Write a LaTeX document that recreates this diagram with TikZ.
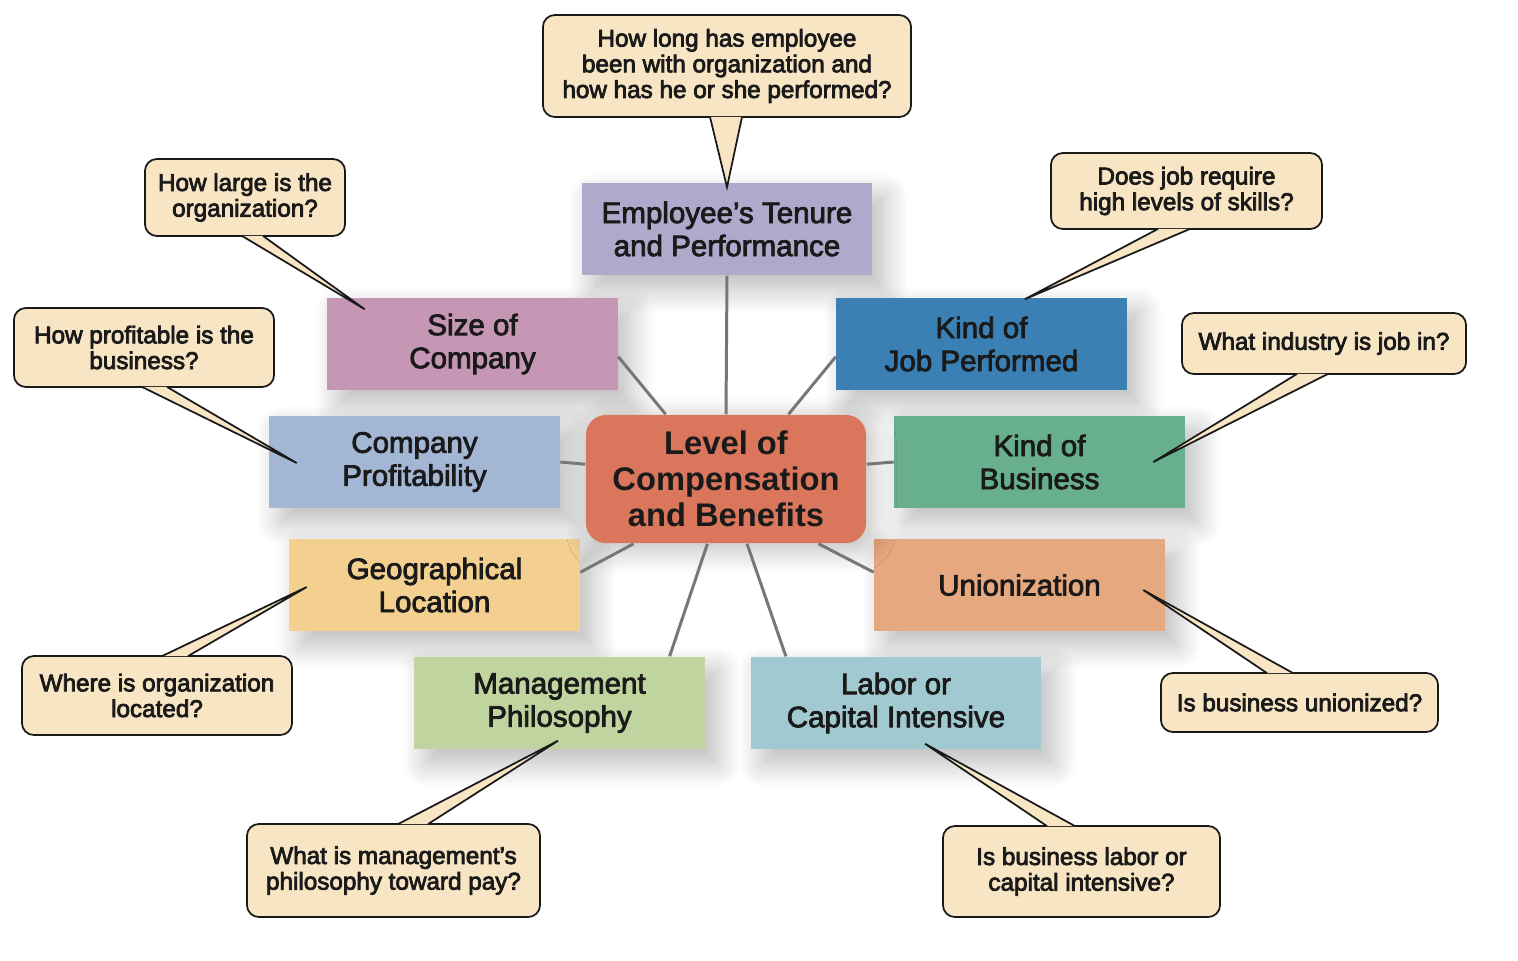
\documentclass[tikz,border=0pt]{standalone}
\usepackage{fontspec}
\setmainfont{Liberation Sans}
\usepackage{tikz}
\usetikzlibrary{shapes}
\usetikzlibrary{shadows.blur}
\newcommand{\heavyon}{\special{pdf:literal direct 2 Tr 0.22 w}}
\newcommand{\heavyoff}{\special{pdf:literal direct 0 Tr}}
\definecolor{hubcol}{HTML}{D9765C}
\definecolor{tenurecol}{HTML}{AFA9CB}
\definecolor{sizecol}{HTML}{C697B4}
\definecolor{jobcol}{HTML}{3B80B5}
\definecolor{profitcol}{HTML}{A3B7D5}
\definecolor{businesscol}{HTML}{67AF8D}
\definecolor{geocol}{HTML}{F3CF90}
\definecolor{unioncol}{HTML}{E6A87E}
\definecolor{mgmtcol}{HTML}{BFD49E}
\definecolor{laborcol}{HTML}{A1C9D1}
\definecolor{bubblecol}{HTML}{F8E5C4}
\definecolor{spokecol}{HTML}{777777}
\definecolor{inkcol}{HTML}{1A1A1A}
\tikzstyle{factor}=[rectangle, minimum width=2.9cm, minimum height=0.92cm, align=center, text=inkcol,
  font=\fontsize{8.4}{9.4}\selectfont, execute at begin node=\heavyon, execute at end node=\heavyoff,
  blur shadow={shadow xshift=0.12cm, shadow yshift=-0.14cm, shadow blur radius=0.25cm, shadow blur steps=12, shadow opacity=28}]
\tikzstyle{hub}=[rectangle, rounded corners=0.2cm, fill=hubcol, minimum width=2.8cm, minimum height=1.28cm,
  align=center, text=inkcol, font=\bfseries\fontsize{9.3}{10.3}\selectfont,
  blur shadow={shadow xshift=0.05cm, shadow yshift=-0.06cm, shadow blur radius=0.25cm, shadow blur steps=12, shadow opacity=28}]
\tikzstyle{question}=[rectangle, rounded corners=0.12cm, draw=inkcol, line width=0.5pt, fill=bubblecol,
  align=center, text=inkcol, font=\fontsize{6.9}{7.3}\selectfont, execute at begin node=\heavyon, execute at end node=\heavyoff]
\tikzstyle{pointer}=[draw=inkcol, line width=0.5pt, fill=bubblecol, line join=miter]
\tikzstyle{spoke}=[draw=spokecol, line width=0.85pt]

\begin{document}
\begin{tikzpicture}[x=0.01cm, y=-0.01cm]
  \useasboundingbox (0,0) rectangle (1518,960);
  \node[factor, fill=tenurecol] at (727,229) (tenure) {Employee’s Tenure\\and Performance};
  \node[factor, fill=sizecol] at (472.5,344) (size) {Size of\\Company};
  \node[factor, fill=jobcol] at (981.5,344) (job) {Kind of\\Job Performed};
  \node[factor, fill=profitcol] at (414.5,462) (profit) {Company\\Profitability};
  \node[factor, fill=businesscol] at (1039.5,462) (business) {Kind of\\Business};
  \node[factor, fill=geocol] at (434.5,585) (geo) {Geographical\\Location};
  \node[factor, fill=unioncol] at (1019.5,585) (union) {Unionization};
  \node[factor, fill=mgmtcol] at (559.5,703) (mgmt) {Management\\Philosophy};
  \node[factor, fill=laborcol] at (896,703) (labor) {Labor or\\Capital Intensive};
  \node[hub] at (726,479) (level) {Level of\\Compensation\\and Benefits};

  \draw[spoke] (tenure.south) -- (level.north);
  \draw[spoke] (size.-5) -- (level.133);
  \draw[spoke] (job.185) -- (level.46);
  \draw[spoke] (profit.east) -- (level.174);
  \draw[spoke] (business.west) -- (level.6);
  \draw[spoke] (geo.5) -- (level.215);
  \draw[spoke] (union.175) -- (level.-35);
  \draw[spoke] (mgmt.23) -- (level.254);
  \draw[spoke] (labor.157) -- (level.-72);

  \node[question, minimum width=3.68cm, minimum height=1.02cm] at (727,66) (qtenure)
    {How long has employee\\been with organization and\\how has he or she performed?};
  \filldraw[pointer] ([shift={(-17,-1)}]qtenure.south) -- ([shift={(0,5)}]tenure.north) -- ([shift={(15,-1)}]qtenure.south);
  \node[question, minimum width=2cm, minimum height=0.77cm] at (245,197.5) (qsize)
    {How large is the\\organization?};
  \filldraw[pointer] ([shift={(-3,-1)}]qsize.south) -- ([shift={(38,12)}]size.north west) -- ([shift={(18,-1)}]qsize.south);
  \node[question, minimum width=2.6cm, minimum height=0.79cm] at (144,347.5) (qprofit)
    {How profitable is the\\business?};
  \filldraw[pointer] ([shift={(-2,-1)}]qprofit.south) -- ([shift={(28,1)}]profit.west) -- ([shift={(23,-1)}]qprofit.south);
  \node[question, minimum width=2.71cm, minimum height=0.76cm] at (1186.5,191) (qjob)
    {Does job require\\high levels of skills?};
  \filldraw[pointer] ([shift={(-28.5,-1)}]qjob.south) -- ([shift={(189,2)}]job.north west) -- ([shift={(3.5,-1)}]qjob.south);
  \node[question, minimum width=2.84cm, minimum height=0.61cm] at (1324,343.5) (qbusiness)
    {What industry is job in?};
  \filldraw[pointer] ([shift={(-27,-1)}]qbusiness.south) -- ([shift={(-32,0)}]business.east) -- ([shift={(4,-1)}]qbusiness.south);
  \node[question, minimum width=2.7cm, minimum height=0.79cm] at (157,695.5) (qgeo)
    {Where is organization\\located?};
  \filldraw[pointer] ([shift={(5,1)}]qgeo.north) -- ([shift={(18,2)}]geo.west) -- ([shift={(31,1)}]qgeo.north);
  \node[question, minimum width=2.77cm, minimum height=0.59cm] at (1299.5,702.5) (qunion)
    {Is business unionized?};
  \filldraw[pointer] ([shift={(-32.5,1)}]qunion.north) -- ([shift={(-22,5)}]union.east) -- ([shift={(-6.5,1)}]qunion.north);
  \node[question, minimum width=2.93cm, minimum height=0.93cm] at (393.5,870.5) (qmgmt)
    {What is management’s\\philosophy toward pay?};
  \filldraw[pointer] ([shift={(4.5,1)}]qmgmt.north) -- ([shift={(-1.5,-9)}]mgmt.south) -- ([shift={(34.5,1)}]qmgmt.north);
  \node[question, minimum width=2.77cm, minimum height=0.91cm] at (1081.5,871.5) (qlabor)
    {Is business labor or\\capital intensive?};
  \filldraw[pointer] ([shift={(-34.5,1)}]qlabor.north) -- ([shift={(29,-6)}]labor.south) -- ([shift={(-6.5,1)}]qlabor.north);
\end{tikzpicture}
\end{document}
